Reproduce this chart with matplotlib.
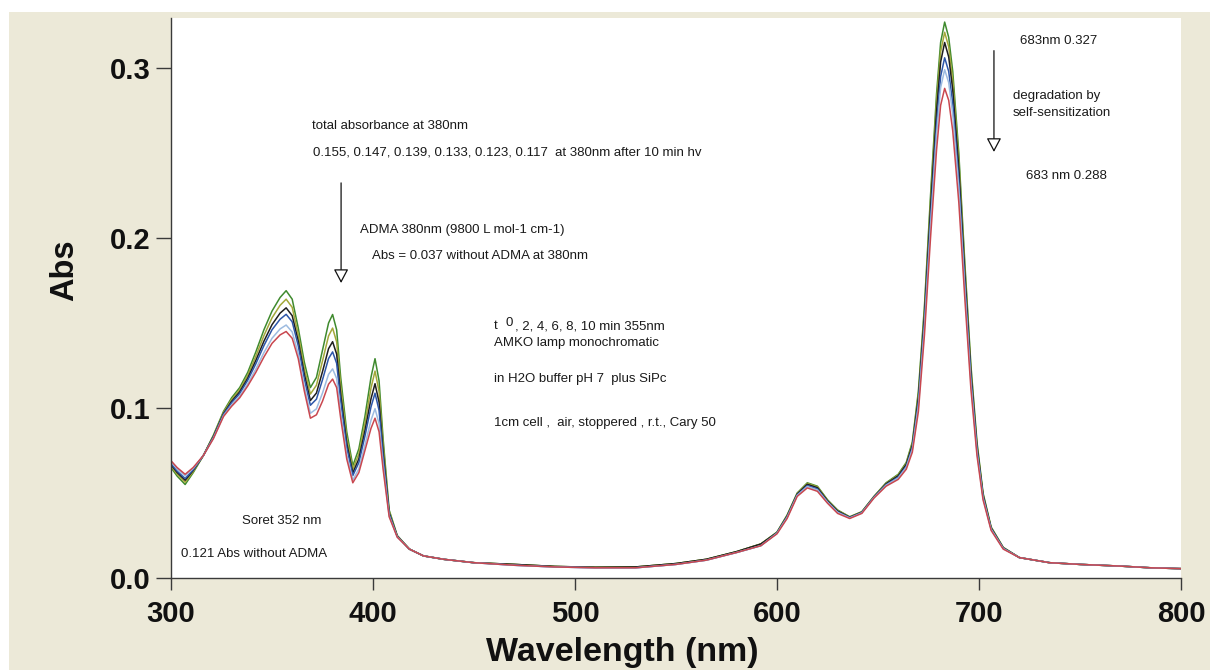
import matplotlib
matplotlib.use("Agg")
import matplotlib.pyplot as plt
from matplotlib.patches import Rectangle

W, H = 1210, 670

# Wavelength grid (nm): UV / Soret region, flat baseline, Q-band region
wavelength = [
    300, 303, 307, 311, 316, 321, 326, 330, 334, 338, 342, 346, 350, 354, 357,
    360, 363, 366, 369, 372, 375, 378, 380, 382, 384, 387, 390, 393, 396, 399,
    401, 403, 405, 408, 412,
    418, 425, 435, 450, 470, 490, 510, 530, 550, 565, 580, 592,
    600, 605, 610, 615, 620, 625, 630, 636, 642, 648, 654, 660, 664, 667, 670,
    673, 676, 679, 681, 683, 685, 687, 690, 693, 696, 699, 702, 706, 712, 720,
    735, 750, 770, 785, 800,
]

# Absorbance after 0, 2, 4, 6, 8 and 10 min irradiation
abs_t0 = [
    0.065, 0.060, 0.055, 0.062, 0.072, 0.084, 0.098, 0.106, 0.112, 0.121, 0.133, 0.146, 0.157, 0.165, 0.169,
    0.164, 0.147, 0.127, 0.112, 0.118, 0.134, 0.150, 0.155, 0.146, 0.118, 0.086, 0.066, 0.076, 0.095, 0.118,
    0.129, 0.116, 0.082, 0.040, 0.025,
    0.017, 0.013, 0.011, 0.009, 0.008, 0.0068, 0.0063, 0.0065, 0.0085, 0.011, 0.0155, 0.020,
    0.027, 0.037, 0.050, 0.056, 0.054, 0.046, 0.040, 0.036, 0.039, 0.048, 0.056, 0.061, 0.068, 0.080, 0.110,
    0.160, 0.225, 0.285, 0.315, 0.327, 0.318, 0.298, 0.250, 0.185, 0.125, 0.080, 0.050, 0.030, 0.018, 0.012,
    0.009, 0.008, 0.007, 0.006, 0.0055,
]
abs_t2 = [
    0.0658, 0.0611, 0.0563, 0.0626, 0.072, 0.0836, 0.0974, 0.1050, 0.1107, 0.1193, 0.1305, 0.1426, 0.1530, 0.1604, 0.1640,
    0.1592, 0.1432, 0.1234, 0.1082, 0.1134, 0.1277, 0.1424, 0.147, 0.1389, 0.1130, 0.0826, 0.0639, 0.0731, 0.0908, 0.1117,
    0.1217, 0.1097, 0.0782, 0.0392, 0.0248,
    0.017, 0.013, 0.011, 0.009, 0.008, 0.0068, 0.0063, 0.0065, 0.0085, 0.011, 0.0155, 0.020,
    0.0269, 0.0367, 0.0497, 0.0556, 0.0536, 0.0457, 0.0397, 0.0359, 0.0389, 0.0479, 0.0557, 0.0606, 0.0674, 0.0791, 0.1082,
    0.1575, 0.2213, 0.2801, 0.3095, 0.321, 0.3125, 0.2928, 0.2457, 0.1819, 0.1229, 0.0788, 0.0494, 0.0297, 0.0179, 0.012,
    0.009, 0.008, 0.007, 0.006, 0.0055,
]
abs_t4 = [
    0.0667, 0.0621, 0.0575, 0.0633, 0.072, 0.0832, 0.0967, 0.1039, 0.1095, 0.1176, 0.1280, 0.1393, 0.1490, 0.1558, 0.1589,
    0.1543, 0.1394, 0.1199, 0.1044, 0.1088, 0.1214, 0.1349, 0.139, 0.1317, 0.1079, 0.0793, 0.0618, 0.0701, 0.0866, 0.1054,
    0.1143, 0.1034, 0.0744, 0.0383, 0.0246,
    0.017, 0.013, 0.011, 0.009, 0.008, 0.0068, 0.0063, 0.0065, 0.0085, 0.011, 0.0155, 0.020,
    0.0267, 0.0364, 0.0494, 0.0551, 0.0531, 0.0454, 0.0394, 0.0357, 0.0387, 0.0477, 0.0554, 0.0601, 0.0668, 0.0781, 0.1063,
    0.1547, 0.2173, 0.2748, 0.3035, 0.315, 0.3065, 0.2872, 0.2410, 0.1785, 0.1207, 0.0775, 0.0488, 0.0294, 0.0177, 0.012,
    0.009, 0.008, 0.007, 0.006, 0.0055,
]
abs_t6 = [
    0.0673, 0.0629, 0.0585, 0.0637, 0.072, 0.0828, 0.0963, 0.1031, 0.1085, 0.1164, 0.1260, 0.1367, 0.1460, 0.1522, 0.1551,
    0.1507, 0.1366, 0.1171, 0.1016, 0.1052, 0.1166, 0.1291, 0.133, 0.1263, 0.1041, 0.0767, 0.0602, 0.0679, 0.0834, 0.1006,
    0.1087, 0.0986, 0.0716, 0.0377, 0.0244,
    0.017, 0.013, 0.011, 0.009, 0.0075, 0.0065, 0.006, 0.006, 0.008, 0.0105, 0.015, 0.019,
    0.0265, 0.0359, 0.0489, 0.0544, 0.0524, 0.0449, 0.0389, 0.0355, 0.0385, 0.0475, 0.0549, 0.0594, 0.0658, 0.0768, 0.1035,
    0.1508, 0.2115, 0.2672, 0.2950, 0.306, 0.2980, 0.2791, 0.2343, 0.1737, 0.1174, 0.0757, 0.0478, 0.0289, 0.0175, 0.012,
    0.009, 0.008, 0.007, 0.006, 0.0055,
]
abs_t8 = [
    0.0684, 0.0642, 0.0600, 0.0645, 0.072, 0.0823, 0.0955, 0.1018, 0.1070, 0.1143, 0.1229, 0.1326, 0.1410, 0.1465, 0.1488,
    0.1447, 0.1319, 0.1127, 0.0969, 0.0995, 0.1088, 0.1198, 0.123, 0.1174, 0.0978, 0.0726, 0.0576, 0.0642, 0.0782, 0.0928,
    0.0996, 0.0908, 0.0669, 0.0366, 0.0242,
    0.017, 0.013, 0.011, 0.009, 0.0075, 0.0065, 0.006, 0.006, 0.008, 0.0105, 0.015, 0.019,
    0.0263, 0.0356, 0.0486, 0.0538, 0.0518, 0.0446, 0.0386, 0.0353, 0.0383, 0.0473, 0.0546, 0.0588, 0.0651, 0.0757, 0.1014,
    0.1478, 0.2070, 0.2612, 0.2884, 0.299, 0.2914, 0.2728, 0.2291, 0.1699, 0.1149, 0.0742, 0.0471, 0.0286, 0.0173, 0.012,
    0.009, 0.008, 0.007, 0.006, 0.0055,
]
abs_t10 = [
    0.069, 0.065, 0.061, 0.065, 0.072, 0.082, 0.095, 0.101, 0.106, 0.113, 0.121, 0.130, 0.138, 0.143, 0.145,
    0.141, 0.129, 0.110, 0.094, 0.096, 0.104, 0.114, 0.117, 0.112, 0.094, 0.070, 0.056, 0.062, 0.075, 0.088,
    0.094, 0.086, 0.064, 0.036, 0.024,
    0.017, 0.013, 0.011, 0.009, 0.0075, 0.0065, 0.006, 0.006, 0.008, 0.0105, 0.015, 0.019,
    0.026, 0.035, 0.048, 0.053, 0.051, 0.044, 0.038, 0.035, 0.038, 0.047, 0.054, 0.058, 0.064, 0.074, 0.098,
    0.143, 0.200, 0.252, 0.278, 0.288, 0.281, 0.263, 0.221, 0.164, 0.111, 0.072, 0.046, 0.028, 0.017, 0.012,
    0.009, 0.008, 0.007, 0.006, 0.0055,
]

spectra = [abs_t0, abs_t2, abs_t4, abs_t6, abs_t8, abs_t10]
trace_colors = ["#3f8a2e", "#a3a83a", "#1e1e1e", "#2d56a8", "#9dbbe0", "#c9474f"]

x_ticks = [300, 400, 500, 600, 700, 800]
y_ticks = [0.0, 0.1, 0.2, 0.3]

BEIGE = "#ECE9D8"
FONT = "Liberation Sans"
plt.rcParams["font.family"] = [FONT, "DejaVu Sans"]

fig = plt.figure(figsize=(W / 100, H / 100), dpi=100, facecolor="white")
# window panel behind the plot
fig.patches.append(Rectangle((9 / W, 0), 1 - 9 / W, 1 - 12 / H, transform=fig.transFigure,
                             facecolor=BEIGE, edgecolor="none", zorder=-5))

left, right, bottom, top = 171, 1181, 578, 18
ax = fig.add_axes([left / W, 1 - bottom / H, (right - left) / W, (bottom - top) / H])
ax.set_zorder(1)
ax.set_facecolor("white")

for spec, col in zip(spectra, trace_colors):
    ax.plot(wavelength, spec, color=col, lw=1.1, solid_joinstyle="round")

ax.set_xlim(300, 800)
ax.set_ylim(0, 0.3294)
ax.set_xticks(x_ticks)
ax.set_yticks(y_ticks)
ax.set_xticklabels([str(v) for v in x_ticks])
ax.set_yticklabels([f"{v:.1f}" for v in y_ticks])

for s in ("top", "right"):
    ax.spines[s].set_visible(False)
for s in ("left", "bottom"):
    ax.spines[s].set_color("#3a3a3a")
    ax.spines[s].set_linewidth(1.0)

ax.tick_params(axis="x", direction="out", length=8.6, width=1.0, color="#3a3a3a", pad=7,
               labelsize=21)
ax.tick_params(axis="y", direction="out", length=10.5, width=1.0, color="#3a3a3a", pad=4,
               labelsize=21)
for lab in ax.get_xticklabels() + ax.get_yticklabels():
    lab.set_fontweight("bold")
    lab.set_color("#111111")

fig.text(622 / W, 1 - 661 / H, "Wavelength (nm)", ha="center", va="baseline",
         fontsize=24.5, fontweight="bold", color="#111111", zorder=2)
fig.text(65 / W, 1 - 270 / H, "Abs", ha="center", va="center", rotation=90,
         fontsize=23.5, fontweight="bold", color="#111111", zorder=2)

note_kw = dict(fontsize=9.5, color="#1a1a1a", ha="left", va="center")
notes = [
    (369.8, 0.2657, "total absorbance at 380nm"),
    (370.3, 0.2500, "0.155, 0.147, 0.139, 0.133, 0.123, 0.117  at 380nm after 10 min hv"),
    (393.6, 0.2047, "ADMA 380nm (9800 L mol-1 cm-1)"),
    (399.5, 0.1896, "Abs = 0.037 without ADMA at 380nm"),
    (459.9, 0.1482, "t"),
    (465.8, 0.1498, "0"),
    (470.3, 0.1482, ", 2, 4, 6, 8, 10 min 355nm"),
    (459.9, 0.1384, "AMKO lamp monochromatic"),
    (459.9, 0.1169, "in H2O buffer pH 7  plus SiPc"),
    (459.9, 0.0910, "1cm cell ,  air, stoppered , r.t., Cary 50"),
    (335.0, 0.0335, "Soret 352 nm"),
    (305.0, 0.0139, "0.121 Abs without ADMA"),
    (720.3, 0.3161, "683nm 0.327"),
    (716.6, 0.2835, "degradation by"),
    (716.6, 0.2737, "self-sensitization"),
    (723.1, 0.2366, "683 nm 0.288"),
]
for x, y, s in notes:
    ax.text(x, y, s, **note_kw)

arrow_kw = dict(arrowstyle="-|>,head_length=0.85,head_width=0.45", fc="white", ec="#111111",
                lw=0.9, shrinkA=0, shrinkB=0, mutation_scale=10)
ax.annotate("", xy=(384.2, 0.1735), xytext=(384.2, 0.2324), arrowprops=arrow_kw)
ax.annotate("", xy=(707.4, 0.2506), xytext=(707.4, 0.3102), arrowprops=arrow_kw)

fig.savefig("out.png", dpi=100, facecolor=fig.get_facecolor())
